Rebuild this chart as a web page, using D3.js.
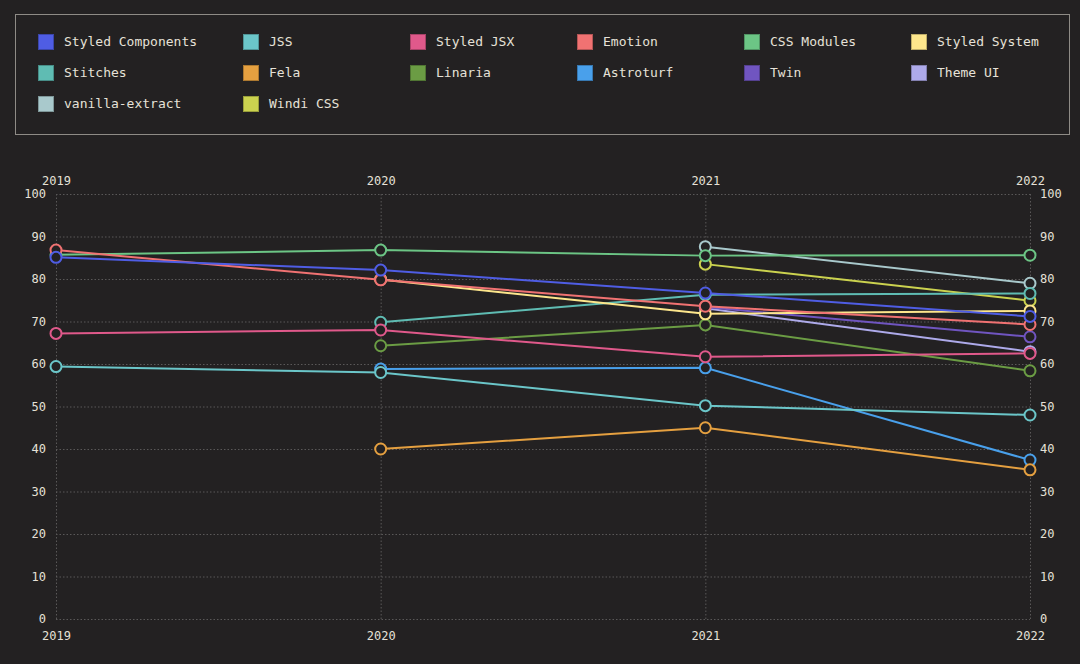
<!DOCTYPE html>
<html>
<head>
<meta charset="utf-8">
<script src="https://cdn.jsdelivr.net/npm/d3@7"></script>
<style>
  html, body { margin: 0; padding: 0; background: #232122; }
  svg { display: block; }
</style>
</head>
<body>
<div id="chart"></div>
<script>
// ─── data ─────────────────────────────────────────────────────────
const years = [2019, 2020, 2021, 2022];

const seriesNames = [
    "Styled Components", "JSS", "Styled JSX", "Emotion", "CSS Modules", "Styled System",
    "Stitches", "Fela", "Linaria", "Astroturf", "Twin", "Theme UI",
    "vanilla-extract", "Windi CSS"
];

const seriesColors = [
    "#4f5de4", "#6bc6c9", "#e0598b", "#f07272", "#6cc585", "#fde68c",
    "#5fbcb3", "#e5a040", "#6b9c44", "#49a0eb", "#7055c0", "#aeaaea",
    "#a9c9cc", "#cbd24f"
];

// one value per year, null = not surveyed that year
const styledComponents = [85.1, 82.1, 76.7, 71.2];
const jss              = [59.4, 58.0, 50.2, 48.0];
const styledJsx        = [67.2, 68.0, 61.7, 62.5];
const emotion          = [86.8, 79.8, 73.6, 69.3];
const cssModules       = [85.7, 86.8, 85.5, 85.6];
const styledSystem     = [null, 79.9, 71.8, 72.5];
const stitches         = [null, 69.8, 76.3, 76.6];
const fela             = [null, 40.0, 45.0, 35.1];
const linaria          = [null, 64.3, 69.2, 58.4];
const astroturf        = [null, 58.8, 59.1, 37.4];
const twin             = [null, null, 73.4, 66.4];
const themeUi          = [null, null, 73.1, 62.9];
const vanillaExtract   = [null, null, 87.6, 79.0];
const windiCss         = [null, null, 83.5, 74.9];

const seriesValues = [
    styledComponents, jss, styledJsx, emotion, cssModules, styledSystem,
    stitches, fela, linaria, astroturf, twin, themeUi, vanillaExtract, windiCss
];

const yTicks = [0, 10, 20, 30, 40, 50, 60, 70, 80, 90, 100];

// ─── layout ───────────────────────────────────────────────────────
const width  = 1080;
const height = 664;
const textColor = "#e6e1d8";
const gridColor = "#5a5858";
const bg = "#232122";
const font = "'DejaVu Sans Mono', 'Liberation Mono', monospace";

const margin = { top: 194, right: 50, bottom: 45, left: 56 };

const svg = d3.select("#chart")
    .append("svg")
    .attr("width", width)
    .attr("height", height);

// ── legend box ────────────────────────────────────────────────────
svg.append("rect")
    .attr("x", 15.5).attr("y", 14.5)
    .attr("width", 1054).attr("height", 120)
    .attr("fill", "none")
    .attr("stroke", "#8e8b86")
    .attr("stroke-width", 1);

const legendCols = [38, 243, 410, 577, 744, 911];

seriesNames.forEach((name, i) => {
    const col = i % 6;
    const row = Math.floor(i / 6);
    const g = svg.append("g")
        .attr("transform", `translate(${legendCols[col]}, ${34 + row * 31})`);

    g.append("rect")
        .attr("x", 0.5).attr("y", 0.5)
        .attr("width", 15).attr("height", 15)
        .attr("fill", seriesColors[i])
        .attr("stroke", d3.color(seriesColors[i]).darker(0.8))
        .attr("stroke-width", 1);

    g.append("text")
        .attr("x", 26)
        .attr("y", 12)
        .style("font-family", font)
        .style("font-size", "13px")
        .style("fill", textColor)
        .text(name);
});

// ── scales ────────────────────────────────────────────────────────
const x = d3.scalePoint()
    .domain(years)
    .range([margin.left, width - margin.right]);

const y = d3.scaleLinear()
    .domain([0, 100])
    .range([height - margin.bottom, margin.top]);

// ── grid ──────────────────────────────────────────────────────────
svg.append("g")
    .selectAll("line")
    .data(yTicks)
    .join("line")
    .attr("x1", margin.left).attr("x2", width - margin.right)
    .attr("y1", d => y(d) + 0.5).attr("y2", d => y(d) + 0.5)
    .attr("stroke", gridColor)
    .attr("stroke-dasharray", "1.5,2");

svg.append("g")
    .selectAll("line")
    .data(years)
    .join("line")
    .attr("x1", d => x(d) + 0.5).attr("x2", d => x(d) + 0.5)
    .attr("y1", y(100)).attr("y2", y(0))
    .attr("stroke", gridColor)
    .attr("stroke-dasharray", "1.5,2");

// ── axes (labels only, no domain/ticks) ───────────────────────────
const styleAxis = g => {
    g.select(".domain").remove();
    g.selectAll(".tick line").remove();
    g.selectAll("text")
        .style("font-family", font)
        .style("font-size", "12px")
        .style("fill", textColor);
};

svg.append("g")
    .attr("transform", `translate(0, ${y(100)})`)
    .call(d3.axisTop(x).tickSize(0).tickPadding(9))
    .call(styleAxis);

svg.append("g")
    .attr("transform", `translate(0, ${y(0)})`)
    .call(d3.axisBottom(x).tickSize(0).tickPadding(12))
    .call(styleAxis);

svg.append("g")
    .attr("transform", `translate(${margin.left}, 0)`)
    .call(d3.axisLeft(y).tickValues(yTicks).tickSize(0).tickPadding(10))
    .call(styleAxis);

svg.append("g")
    .attr("transform", `translate(${width - margin.right}, 0)`)
    .call(d3.axisRight(y).tickValues(yTicks).tickSize(0).tickPadding(10))
    .call(styleAxis);

// ── lines + points ────────────────────────────────────────────────
// first series sits on top, so draw in reverse
const line = d3.line()
    .defined(d => d.v !== null)
    .x(d => x(d.year))
    .y(d => y(d.v));

const series = seriesNames.map((name, i) => ({
    name,
    color: seriesColors[i],
    points: years.map((year, j) => ({ year, v: seriesValues[i][j] }))
})).reverse();

const sg = svg.append("g")
    .selectAll("g")
    .data(series)
    .join("g");

sg.append("path")
    .attr("d", d => line(d.points))
    .attr("fill", "none")
    .attr("stroke", d => d.color)
    .attr("stroke-width", 2);

sg.selectAll("circle")
    .data(d => d.points.filter(p => p.v !== null).map(p => ({ ...p, color: d.color })))
    .join("circle")
    .attr("cx", d => x(d.year))
    .attr("cy", d => y(d.v))
    .attr("r", 5.5)
    .attr("fill", bg)
    .attr("stroke", d => d.color)
    .attr("stroke-width", 2);
</script>
</body>
</html>
